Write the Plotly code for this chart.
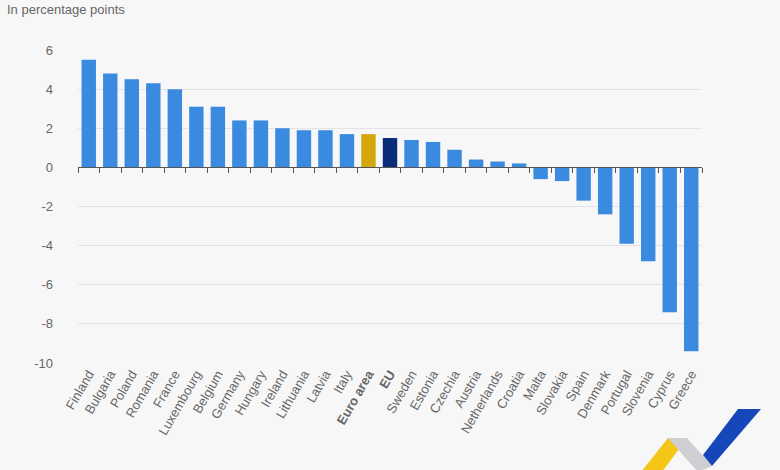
import plotly.graph_objects as go

countries = ["Finland", "Bulgaria", "Poland", "Romania", "France", "Luxembourg",
             "Belgium", "Germany", "Hungary", "Ireland", "Lithuania", "Latvia",
             "Italy", "Euro area", "EU", "Sweden", "Estonia", "Czechia", "Austria",
             "Netherlands", "Croatia", "Malta", "Slovakia", "Spain", "Denmark",
             "Portugal", "Slovenia", "Cyprus", "Greece"]
values = [5.5, 4.8, 4.5, 4.3, 4.0, 3.1, 3.1, 2.4, 2.4, 2.0, 1.9, 1.9, 1.7, 1.7,
          1.5, 1.4, 1.3, 0.9, 0.4, 0.3, 0.2, -0.6, -0.7, -1.7, -2.4, -3.9, -4.8,
          -7.4, -9.4]
y_ticks = [6, 4, 2, 0, -2, -4, -6, -8, -10]

BLUE = "#3a8ae0"
colors = []
for c in countries:
    if c == "Euro area":
        colors.append("#d4a80c")
    elif c == "EU":
        colors.append("#0a2d7a")
    else:
        colors.append(BLUE)

labels = ["<b>%s</b>" % c if c in ("Euro area", "EU") else c for c in countries]

fig = go.Figure()
fig.add_trace(go.Bar(x=countries, y=values, marker_color=colors,
                     marker_line_width=0, hoverinfo="x+y"))
# invisible copy so the zero-line axis with its tick marks gets drawn
fig.add_trace(go.Bar(x=countries, y=values, xaxis="x2", opacity=0,
                     hoverinfo="skip", showlegend=False))

W, H = 780, 470
L, R, T, B = 78, 78, 50, 107
ymin, ymax = -10, 6


def px(x, y):
    return (x - L) / (W - L - R), (H - B - y) / (H - T - B)


def path(pts):
    s = ""
    for i, (x, y) in enumerate(pts):
        a, b = px(x, y)
        s += ("M" if i == 0 else "L") + " %.4f %.4f " % (a, b)
    return s + "Z"


# logo in the bottom right corner
logo = [
    ([(668, 438), (687, 438), (662, 472), (641, 472)], "#f5c518"),
    ([(687, 438), (668, 438), (698, 472), (712, 466)], "#cfcfd3"),
    ([(738, 409), (761, 409), (712, 466), (703, 455)], "#1647b8"),
]
shapes = []
for pts, col in logo:
    shapes.append(dict(type="path", xref="paper", yref="paper", path=path(pts),
                       fillcolor=col, line_width=0, layer="above"))

fig.update_layout(
    width=W, height=H,
    margin=dict(l=L, r=R, t=T, b=B),
    paper_bgcolor="#f7f7f8", plot_bgcolor="#f7f7f8",
    font=dict(family="Arial, Liberation Sans, sans-serif", color="#666666", size=13),
    showlegend=False,
    bargap=0.33,
    shapes=shapes,
    xaxis=dict(
        categoryorder="array", categoryarray=countries,
        tickmode="array", tickvals=countries, ticktext=labels,
        tickangle=-60, showgrid=False, showline=False, ticks="",
        tickfont=dict(size=13, color="#666666"),
    ),
    xaxis2=dict(
        overlaying="x", anchor="free", matches="x",
        position=(0 - ymin) / (ymax - ymin),
        categoryorder="array", categoryarray=countries,
        showticklabels=False, showgrid=False,
        showline=True, linecolor="#555555", linewidth=1,
        ticks="outside", tickson="boundaries", ticklen=5,
        tickcolor="#555555", tickwidth=1,
    ),
    yaxis=dict(
        range=[ymin, ymax], tickmode="array", tickvals=y_ticks,
        ticktext=[str(v) for v in y_ticks],
        showgrid=True, gridcolor="#e3e3e6", gridwidth=1,
        zeroline=False, ticklabelstandoff=24,
        tickfont=dict(size=13, color="#666666"),
    ),
    annotations=[dict(text="In percentage points", xref="paper", yref="paper",
                      x=px(5, 0)[0], y=px(0, 10)[1], xanchor="left", yanchor="middle",
                      showarrow=False, font=dict(size=13, color="#666666"))],
)

fig.write_html("out.html", config={"displayModeBar": False},
               post_script="document.body.style.margin='0';"
               "document.body.style.background='#f7f7f8';")
